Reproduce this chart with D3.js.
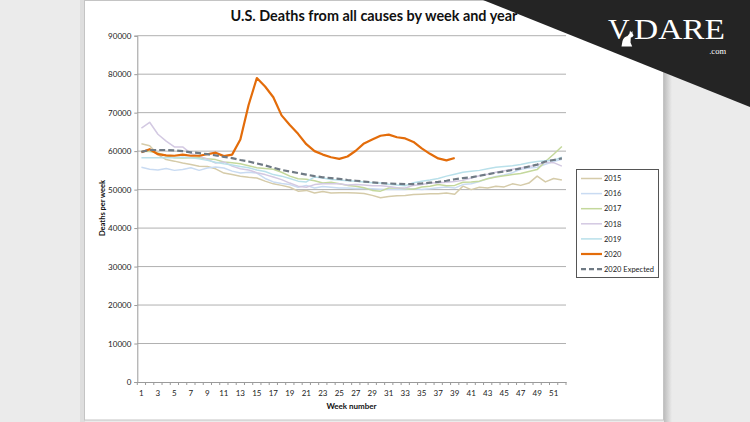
<!DOCTYPE html>
<html>
<head>
<meta charset="utf-8">
<script src="https://cdn.jsdelivr.net/npm/d3@7"></script>
<style>
body { margin: 0; background: #ebebeb; }
svg { display: block; font-family: Lato, "Open Sans", sans-serif; }
</style>
</head>
<body>
<div id="chart"></div>
<script>
// weekly deaths
const weeks = d3.range(1, 53);
const deaths2015 = [61900, 61400, 59100, 57800, 57400, 56900, 56500, 56100, 56000, 55400, 54300, 53900, 53500, 53200, 53000, 52200, 51500, 51100, 50600, 49600, 49800, 49100, 49500, 49100, 49200, 49200, 49100, 49000, 48500, 47900, 48200, 48400, 48500, 48700, 48800, 48900, 48900, 49100, 48800, 50900, 50000, 50600, 50400, 50900, 50700, 51500, 51100, 51700, 53500, 52000, 52900, 52500];
const deaths2016 = [55800, 55300, 55100, 55500, 55000, 55200, 55700, 55000, 55600, 55900, 55600, 54800, 54300, 54500, 54300, 52900, 52000, 51600, 51300, 50600, 51100, 50400, 50800, 50600, 50400, 50400, 50300, 50300, 50200, 50100, 50000, 50100, 50000, 50200, 50000, 50200, 50500, 50700, 50400, 51300, 51500, 52100, 52900, 53400, 53800, 54400, 55300, 55600, 55800, 56600, 57300, 57900];
const deaths2017 = [60000, 59900, 59500, 58800, 58300, 58200, 58300, 58300, 58000, 57800, 57200, 57000, 56700, 56200, 55700, 55500, 55300, 54500, 53500, 52800, 52700, 52300, 51700, 51900, 51500, 51100, 50900, 50500, 49800, 49600, 50400, 50400, 50200, 50100, 50700, 50900, 51300, 51000, 51100, 51900, 52000, 52200, 52800, 53300, 53600, 53900, 54200, 54700, 55200, 57300, 59200, 61200];
const deaths2018 = [66000, 67500, 64400, 62600, 61100, 61100, 59400, 58700, 57900, 56900, 57200, 56100, 55400, 55100, 54400, 53900, 53300, 52600, 51700, 50900, 50600, 51300, 51500, 51500, 51500, 51200, 51300, 51200, 51000, 51000, 50800, 50500, 50400, 51100, 51300, 51700, 51800, 51900, 52100, 52400, 53000, 53600, 54000, 54500, 54900, 55300, 55600, 56000, 56400, 57100, 57000, 56100];
const deaths2019 = [58300, 58300, 58300, 58300, 58300, 58400, 58300, 58000, 57600, 57100, 56700, 56400, 56000, 55700, 55100, 54700, 53900, 53500, 52900, 52200, 52000, 53300, 53000, 52600, 52500, 52300, 52200, 52000, 51800, 51700, 51400, 51200, 51000, 51800, 52200, 52500, 52900, 53500, 54000, 54500, 54800, 55000, 55400, 55800, 56000, 56200, 56500, 57000, 57300, 57500, 57600, 58400];
const deaths2020 = [59700, 60500, 59200, 58900, 58800, 59100, 58800, 58800, 59200, 59600, 58700, 59100, 63000, 72000, 79000, 76800, 74000, 69300, 66800, 64500, 61800, 60000, 59100, 58400, 58000, 58600, 60100, 62000, 63000, 64000, 64300, 63600, 63300, 62400, 60700, 59300, 58100, 57600, 58200];
const expected2020 = [59800, 60300, 60300, 60300, 60200, 60000, 59700, 59500, 59200, 58900, 58500, 58200, 57700, 57300, 56800, 56300, 55700, 55100, 54700, 54300, 53900, 53500, 53200, 53000, 52800, 52500, 52300, 52100, 51900, 51700, 51600, 51500, 51450, 51450, 51600, 51800, 52000, 52300, 52700, 53000, 53200, 53600, 54000, 54400, 54700, 55100, 55500, 56000, 56500, 57300, 57700, 58100];

const yTicks = d3.range(0, 90001, 10000);
const xTickLabels = weeks.filter(w => w % 2 === 1);

const seriesNames = ["2015", "2016", "2017", "2018", "2019", "2020", "2020 Expected"];
const seriesColors = ["#d5cba9", "#c9dbf2", "#c4d89c", "#d3c9e2", "#b9e0ea", "#e36c0a", "#6f7a84"];
const seriesValues = [deaths2015, deaths2016, deaths2017, deaths2018, deaths2019, deaths2020, expected2020];

const W = 750, H = 422;
const plot = {left: 137.3, right: 566, top: 35.7, bottom: 382};

const svg = d3.select("#chart").append("svg")
    .attr("width", W)
    .attr("height", H);

// frame shadow + white chart area
const defs = svg.append("defs");
const grad = defs.append("linearGradient").attr("id", "shade");
grad.append("stop").attr("offset", "0%").attr("stop-color", "#bdbdbd");
grad.append("stop").attr("offset", "100%").attr("stop-color", "#ebebeb");
svg.append("rect").attr("x", 664).attr("y", 0).attr("width", 8).attr("height", H).attr("fill", "url(#shade)");
svg.append("rect").attr("x", 80).attr("y", 0).attr("width", 5).attr("height", H).attr("fill", "#dedede");
svg.append("rect")
    .attr("x", 84.5).attr("y", 0.5)
    .attr("width", 579).attr("height", 419.5)
    .attr("fill", "#fff")
    .attr("stroke", "#c4c4c4");

const x = d3.scaleBand().domain(weeks).range([plot.left, plot.right]);
const xc = w => x(w) + x.bandwidth() / 2;
const y = d3.scaleLinear().domain([0, 90000]).range([plot.bottom, plot.top]);

// gridlines
svg.append("g")
    .selectAll("line")
    .data(yTicks.filter(d => d > 0))
    .join("line")
    .attr("x1", plot.left).attr("x2", plot.right)
    .attr("y1", d => y(d)).attr("y2", d => y(d))
    .attr("stroke", "#b0b0b0")
    .attr("stroke-width", 1);

// y axis
const yAxis = svg.append("g")
    .attr("transform", `translate(${plot.left},0)`)
    .call(d3.axisLeft(y).tickValues(yTicks).tickSize(3).tickPadding(3).tickFormat(d3.format("d")));
yAxis.select(".domain").attr("stroke", "#9a9a9a");
yAxis.selectAll(".tick line").attr("stroke", "#9a9a9a");
yAxis.selectAll("text").attr("font-size", 8).attr("fill", "#222").attr("font-family", "Lato, sans-serif");

// x axis: labels on odd weeks, ticks between categories
const xAxis = svg.append("g")
    .attr("transform", `translate(0,${plot.bottom})`)
    .call(d3.axisBottom(x).tickValues(xTickLabels).tickSize(0).tickPadding(8));
xAxis.select(".domain").attr("stroke", "#9a9a9a");
xAxis.selectAll("text").attr("font-size", 8).attr("fill", "#222").attr("font-family", "Lato, sans-serif");
svg.append("g")
    .selectAll("line")
    .data(weeks.concat([53]))
    .join("line")
    .attr("x1", w => w === 53 ? plot.right : x(w))
    .attr("x2", w => w === 53 ? plot.right : x(w))
    .attr("y1", plot.bottom).attr("y2", plot.bottom + 3)
    .attr("stroke", "#9a9a9a");

// series lines
const line = d3.line()
    .x((d, i) => xc(weeks[i]))
    .y(d => y(d));

seriesValues.forEach((vals, i) => {
    const is2020 = i === 5, isExp = i === 6;
    svg.append("path")
        .datum(vals)
        .attr("d", line)
        .attr("fill", "none")
        .attr("stroke", seriesColors[i])
        .attr("stroke-width", is2020 || isExp ? 2.2 : 1.5)
        .attr("stroke-dasharray", isExp ? "6,3" : null)
        .attr("stroke-linejoin", "round");
});

// titles
svg.append("text")
    .attr("x", 374).attr("y", 21)
    .attr("text-anchor", "middle")
    .attr("font-size", 14.4).attr("font-weight", "bold").attr("fill", "#111")
    .text("U.S. Deaths from all causes by week and year");

svg.append("text")
    .attr("transform", "translate(104.5,208) rotate(-90)")
    .attr("text-anchor", "middle")
    .attr("font-size", 7.5).attr("font-weight", "bold").attr("fill", "#111")
    .text("Deaths per week");

svg.append("text")
    .attr("x", 351.5).attr("y", 408.5)
    .attr("text-anchor", "middle")
    .attr("font-size", 8).attr("font-weight", "bold").attr("fill", "#111")
    .text("Week number");

// legend
const legend = svg.append("g");
legend.append("rect")
    .attr("x", 576.5).attr("y", 169.5)
    .attr("width", 82).attr("height", 108)
    .attr("fill", "#fff").attr("stroke", "#555");
const item = legend.selectAll("g.item")
    .data(seriesNames)
    .join("g")
    .attr("class", "item")
    .attr("transform", (d, i) => `translate(0,${178.5 + i * 15.1})`);
item.append("line")
    .attr("x1", 581).attr("x2", 602)
    .attr("stroke", (d, i) => seriesColors[i])
    .attr("stroke-width", (d, i) => i >= 5 ? 2.2 : 1.5)
    .attr("stroke-dasharray", (d, i) => i === 6 ? "5,3" : null);
item.append("text")
    .attr("x", 604).attr("y", 2.7)
    .attr("font-size", 7.5).attr("fill", "#222")
    .text(d => d);

// VDARE badge
svg.append("path")
    .attr("d", d3.line()([[483, 0], [750, 0], [750, 107]]) + "Z")
    .attr("fill", "#242424");
const badge = svg.append("g").attr("fill", "#fff").attr("font-family", "'Liberation Serif', 'DejaVu Serif', serif");
badge.append("text").attr("x", 608).attr("y", 38.5).attr("font-size", 30).text("V");
badge.append("text").attr("x", 634).attr("y", 38.5).attr("font-size", 30)
    .attr("textLength", 91).attr("lengthAdjust", "spacingAndGlyphs").text("DARE");
badge.append("text").attr("x", 726).attr("y", 53.5).attr("text-anchor", "end").attr("font-size", 8.5).text(".com");
badge.append("path")
    .attr("d", "M621.5,46.5 L622.5,41 Q623.5,37 627.5,36 L629.5,33.5 L630,30.5 L631.2,32.5 L632.3,31 L632.6,33.8 L633.6,35.2 Q632.5,37.5 630.8,37.4 L630.5,42.5 L632.2,46.5 Z");
</script>
</body>
</html>
